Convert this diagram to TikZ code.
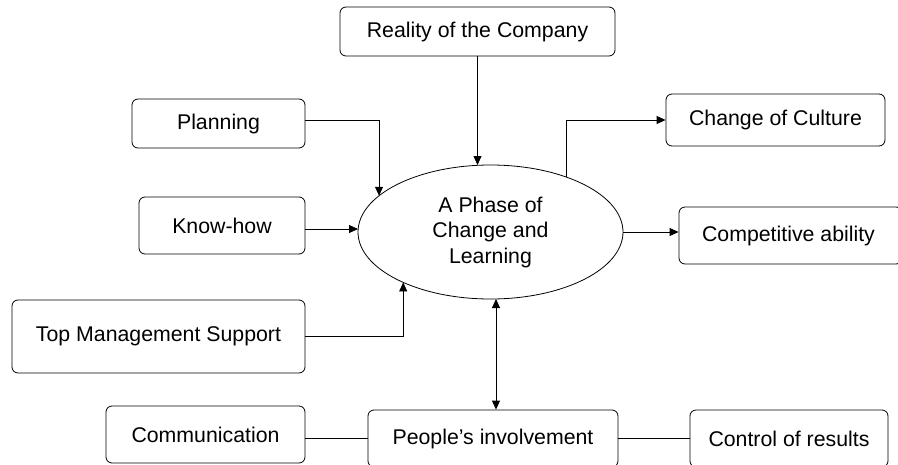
\documentclass[tikz,border=0pt]{standalone}
\usepackage{fontspec}
\setmainfont{Liberation Sans}
\usetikzlibrary{arrows.meta,shapes.geometric}
\begin{document}
\begin{tikzpicture}[x=1pt,y=-1pt,
  font=\fontsize{21.3}{25.5}\selectfont,
  box/.style={draw,rounded corners=6pt,line width=0.8pt,inner sep=0pt,align=center},
  conn/.style={line width=0.8pt},
  arr/.style={conn,-{Triangle[length=9pt,width=8pt]}},
  darr/.style={conn,{Triangle[length=9pt,width=8pt]}-{Triangle[length=9pt,width=8pt]}}]
\useasboundingbox (0,0) rectangle (898,464);
\clip (0,0) rectangle (898,464);
\node[box,minimum width=275pt,minimum height=49pt] (reality) at (477.5,31.5) {Reality of the Company};
\node[box,minimum width=173pt,minimum height=49pt] (planning) at (218.5,123.5) {Planning};
\node[box,minimum width=166pt,minimum height=57pt] (knowhow) at (222,225.5) {Know-how};
\node[box,minimum width=293pt,minimum height=73pt] (topmgmt) at (158.5,336.5) {Top Management Support};
\node[box,minimum width=199pt,minimum height=57pt] (comm) at (205.5,434.5) {Communication};
\node[box,minimum width=250pt,minimum height=57pt] (people) at (493,438.5) {People’s involvement};
\node[box,minimum width=198pt,minimum height=57pt] (control) at (789,438.5) {Control of results};
\node[box,minimum width=219pt,minimum height=52pt] (culture) at (775.5,120) {Change of Culture};
\node[box,minimum width=223pt,minimum height=57pt] (comp) at (790.5,235.5) {\hspace*{-4pt}Competitive ability};
\node[draw,ellipse,line width=0.8pt,minimum width=265pt,minimum height=134pt,inner sep=0pt,align=center,outer sep=0pt] (ell) at (490.5,232) {A Phase of\\Change and\\Learning};
\draw[arr] (reality.south) -- (reality.south |- ell.north);
\draw[arr] ([yshift=3.5pt]planning.east) -| (ell.162);
\draw[arr] ([yshift=-3.5pt]knowhow.east) -- ([yshift=3pt]ell.west);
\draw[arr] (topmgmt.east) -| (ell.210);
\draw[arr] (ell.36.6) |- (culture.west);
\draw[arr] (ell.east) -- (ell.east -| comp.west);
\draw[darr] ([xshift=3pt]people.north) -- ([xshift=3pt]people.north |- ell.south);
\draw[conn] (people.west) -- (people.west -| comm.east);
\draw[conn] (people.east) -- (control.west);
\end{tikzpicture}
\end{document}
